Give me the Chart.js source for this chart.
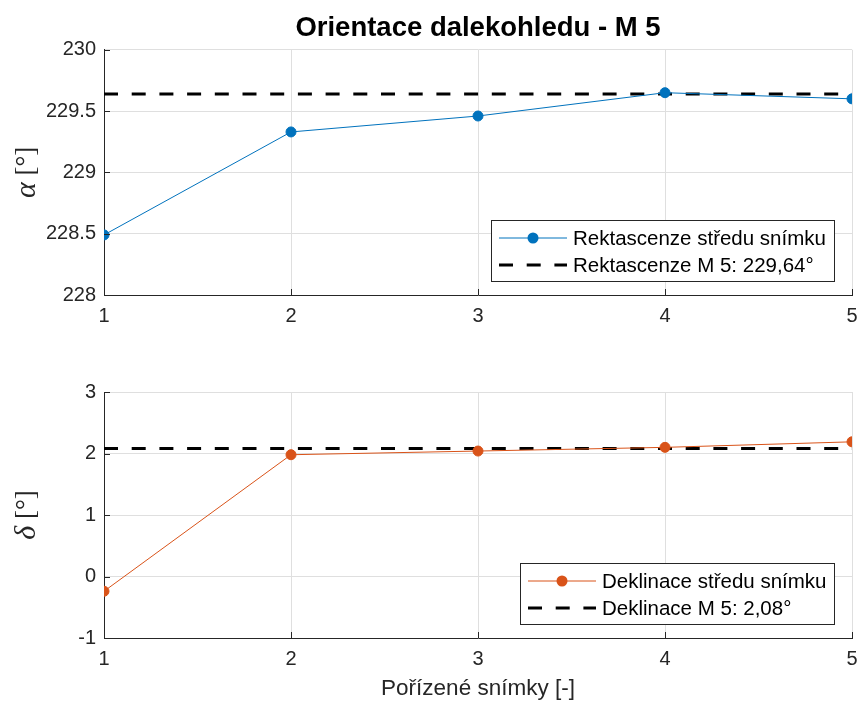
<!DOCTYPE html>
<html>
<head>
<meta charset="utf-8">
<script src="https://cdn.jsdelivr.net/npm/chart.js@4.4.1/dist/chart.umd.min.js"></script>
<style>
  body { margin: 0; background: #fff; }
  .panel { position: absolute; left: 0; width: 859px; }
</style>
</head>
<body>
<div class="panel" style="top:0;height:330px"><canvas id="raChart"></canvas></div>
<div class="panel" style="top:340px;height:364px"><canvas id="decChart"></canvas></div>
<script>
// snimky 1..5
const frames = [1, 2, 3, 4, 5];
const raValues = [228.49, 229.33, 229.46, 229.65, 229.60];
const decValues = [-0.24, 1.98, 2.04, 2.10, 2.19];
const raRef = 229.64;
const decRef = 2.08;
const raTicks = [228, 228.5, 229, 229.5, 230];
const decTicks = [-1, 0, 1, 2, 3];

const SANS = '"Liberation Sans", Arial, Helvetica, sans-serif';
const SERIF = '"Liberation Serif", "Times New Roman", serif';
const AXIS = '#262626';
const GRID = '#dfdfdf';

// legend inside the plot + inward tick marks + y label with greek symbol
const matlabLook = {
    id: 'matlabLook',
    afterDatasetsDraw(chart, args, opts)
    {
        const {ctx, chartArea: a, scales} = chart;
        ctx.save();

        // inward ticks
        ctx.strokeStyle = AXIS;
        ctx.lineWidth = 1;
        ctx.beginPath();
        scales.x.ticks.forEach(t => {
            const px = Math.round(scales.x.getPixelForValue(t.value)) + 0.5;
            ctx.moveTo(px, a.bottom);
            ctx.lineTo(px, a.bottom - 6);
        });
        scales.y.ticks.forEach(t => {
            const py = Math.round(scales.y.getPixelForValue(t.value)) + 0.5;
            ctx.moveTo(a.left, py);
            ctx.lineTo(a.left + 6, py);
        });
        ctx.stroke();

        // legend
        const sets = chart.data.datasets;
        ctx.font = '20.5px ' + SANS;
        const textW = Math.max(...sets.map(d => ctx.measureText(d.label).width));
        const w = Math.round(8 + 68 + 6 + textW + 8), h = 61;
        const x = Math.round(a.right - 18 - w), y = Math.round(a.bottom - 14 - h);
        ctx.fillStyle = '#fff';
        ctx.fillRect(x, y, w, h);
        ctx.strokeStyle = AXIS;
        ctx.strokeRect(x + 0.5, y + 0.5, w, h);
        sets.forEach((d, i) => {
            const cy = y + 18 + i * 27;
            ctx.strokeStyle = d.borderColor;
            ctx.lineWidth = d.borderWidth;
            ctx.setLineDash(d.borderDash || []);
            ctx.beginPath();
            ctx.moveTo(x + 8, cy);
            ctx.lineTo(x + 76, cy);
            ctx.stroke();
            ctx.setLineDash([]);
            if (d.pointRadius)
            {
                ctx.fillStyle = d.borderColor;
                ctx.beginPath();
                ctx.arc(x + 42, cy, d.pointRadius + 0.5, 0, Math.PI * 2);
                ctx.fill();
            }
            ctx.fillStyle = '#000';
            ctx.textBaseline = 'middle';
            ctx.textAlign = 'left';
            ctx.fillText(d.label, x + 82, cy + 1);
        });

        // y label: greek letter + unit
        const cy = (a.top + a.bottom) / 2;
        ctx.translate(27, cy);
        ctx.rotate(-Math.PI / 2);
        ctx.fillStyle = AXIS;
        ctx.textBaseline = 'middle';
        const gFont = 'italic 30px ' + SERIF;
        const uFont = '27px ' + SERIF;
        ctx.font = gFont;
        const gw = ctx.measureText(opts.symbol).width;
        ctx.font = uFont;
        const uw = ctx.measureText(' [°]').width;
        let sx = -(gw + uw) / 2;
        ctx.font = gFont;
        ctx.fillText(opts.symbol, sx, 0);
        ctx.font = uFont;
        ctx.fillText(' [°]', sx + gw, 0);

        ctx.restore();
    }
};

function makeChart(canvasId, {values, ref, refLabel, label, color, yTicks, symbol, title, xTitle, padTop, xHeight})
{
    try
    {
        const config = {
            type: 'line',
            data: {
                datasets: [
                    {
                        label: label,
                        data: frames.map((f, i) => ({x: f, y: values[i]})),
                        borderColor: color,
                        backgroundColor: color,
                        borderWidth: 1,
                        pointRadius: 5,
                        pointBorderWidth: 1,
                        pointBackgroundColor: color,
                        tension: 0
                    },
                    {
                        label: refLabel,
                        data: [frames[0], frames[frames.length - 1]].map(f => ({x: f, y: ref})),
                        borderColor: '#000',
                        borderWidth: 3,
                        borderDash: [14, 13.7],
                        pointRadius: 0
                    }
                ]
            },
            options: {
                responsive: true,
                maintainAspectRatio: false,
                animation: false,
                layout: {padding: {top: padTop, right: 7, left: 0, bottom: 0}},
                plugins: {
                    legend: {display: false},
                    tooltip: {enabled: false},
                    title: {
                        display: !!title,
                        text: title,
                        fullSize: false,
                        color: '#000',
                        font: {family: SANS, size: 27.5, weight: 'bold', lineHeight: 1.2},
                        padding: {top: 12, bottom: 4.8}
                    },
                    matlabLook: {symbol: symbol}
                },
                scales: {
                    x: {
                        type: 'linear',
                        min: frames[0],
                        max: frames[frames.length - 1],
                        afterBuildTicks: s => { s.ticks = frames.map(v => ({value: v})); },
                        afterFit: s => { s.height = xHeight; s.paddingLeft = 0; s.paddingRight = 0; },
                        grid: {color: GRID, drawTicks: false},
                        border: {color: AXIS, width: 1},
                        ticks: {color: AXIS, font: {family: SANS, size: 20}, padding: 9.5, maxRotation: 0,
                                callback: v => String(v)},
                        title: {
                            display: !!xTitle,
                            text: xTitle,
                            color: AXIS,
                            font: {family: SANS, size: 22.5},
                            padding: {top: 0, bottom: 2}
                        }
                    },
                    y: {
                        min: yTicks[0],
                        max: yTicks[yTicks.length - 1],
                        afterBuildTicks: s => { s.ticks = yTicks.map(v => ({value: v})); },
                        afterFit: s => { s.width = 104; },
                        grid: {color: GRID, drawTicks: false},
                        border: {color: AXIS, width: 1},
                        ticks: {color: AXIS, font: {family: SANS, size: 20}, padding: 8,
                                callback: v => String(v)}
                    }
                }
            },
            plugins: [matlabLook]
        };

        return new Chart(document.getElementById(canvasId), config);
    }
    catch (e)
    {
        console.error(e.message);
    }
    return null;
}

makeChart('raChart', {
    values: raValues, ref: raRef,
    label: 'Rektascenze středu snímku',
    refLabel: 'Rektascenze M 5: 229,64°',
    color: '#0072BD', yTicks: raTicks, symbol: 'α',
    title: 'Orientace dalekohledu - M 5', xTitle: '',
    padTop: 0, xHeight: 35
});

makeChart('decChart', {
    values: decValues, ref: decRef,
    label: 'Deklinace středu snímku',
    refLabel: 'Deklinace M 5: 2,08°',
    color: '#D95319', yTicks: decTicks, symbol: 'δ',
    title: '', xTitle: 'Pořízené snímky [-]',
    padTop: 52, xHeight: 66
});
</script>
</body>
</html>
